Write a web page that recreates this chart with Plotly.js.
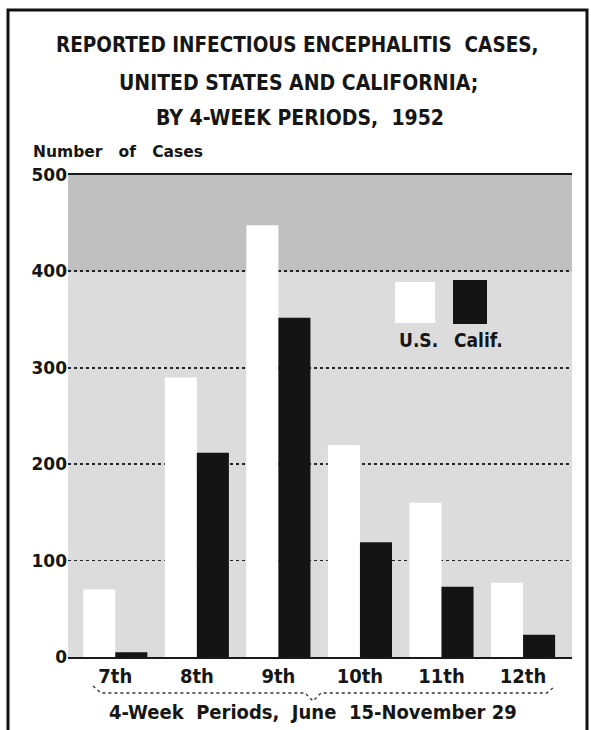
<!DOCTYPE html>
<html>
<head>
<meta charset="utf-8">
<script src="https://cdn.plot.ly/plotly-3.0.1.min.js"></script>
<style>html,body{margin:0;padding:0;background:#fff;}#chart{width:591px;height:730px;}</style>
</head>
<body>
<div id="chart"></div>
<script>
// Data
var periods = ['7th', '8th', '9th', '10th', '11th', '12th'];
var usCases = [70, 290, 448, 220, 160, 77];
var califCases = [5, 212, 352, 119, 73, 23];
var yTicks = [0, 100, 200, 300, 400, 500];

// layout helpers (pixel -> paper)
var L = 68, R = 572, T = 175, B = 657;
function px(x) { return (x - L) / (R - L); }
function py(y) { return (B - y) / (B - T); }

var narrow = 'Liberation Sans Narrow, DejaVu Sans Condensed, Arial Narrow, sans-serif';
var ink = '#161616';

var traces = [
  { type: 'bar', name: 'U.S.', x: periods, y: usCases,
    marker: { color: '#ffffff', line: { width: 0 } }, hoverinfo: 'x+y' },
  { type: 'bar', name: 'Calif.', x: periods, y: califCases,
    marker: { color: '#141414', line: { width: 0 } }, hoverinfo: 'x+y' }
];

var bracePath = 'M ' + px(93) + ' ' + py(686) +
  ' L ' + px(101) + ' ' + py(693) +
  ' L ' + px(305) + ' ' + py(693) +
  ' L ' + px(313) + ' ' + py(701) +
  ' L ' + px(321) + ' ' + py(693) +
  ' L ' + px(547) + ' ' + py(693) +
  ' L ' + px(555) + ' ' + py(686);

var layout = {
  width: 591, height: 730,
  margin: { l: L, r: 591 - R, t: T, b: 730 - B, pad: 0 },
  paper_bgcolor: '#ffffff',
  plot_bgcolor: '#dcdcdc',
  showlegend: false,
  barmode: 'group',
  bargap: 0.214,
  bargroupgap: 0,
  font: { family: narrow, color: ink },
  xaxis: {
    type: 'category',
    range: [-0.58, 5.6],
    showgrid: false,
    showline: true, mirror: true, linecolor: '#1a1a1a', linewidth: 2,
    ticks: '', ticklen: 0,
    tickfont: { family: narrow, size: 20, weight: 'bold', color: ink },
    fixedrange: true
  },
  yaxis: {
    range: [0, 500],
    tickvals: yTicks,
    ticktext: yTicks.map(String),
    showgrid: true, gridcolor: '#222', gridwidth: 1.8, griddash: 'dot',
    zeroline: false, showline: false,
    ticks: '', ticklen: 0,
    tickfont: { family: 'DejaVu Sans, sans-serif', size: 17, weight: 'bold', color: ink },
    fixedrange: true
  },
  shapes: [
    // darker stippled band above 400
    { type: 'rect', xref: 'paper', yref: 'y', x0: 0, x1: 1, y0: 400, y1: 500,
      fillcolor: '#c0c0c0', line: { width: 0 }, layer: 'below' },
    // outer frame
    { type: 'rect', xref: 'paper', yref: 'paper', x0: px(8), x1: px(587), y0: py(745), y1: py(10),
      line: { color: '#111', width: 3 }, fillcolor: 'rgba(0,0,0,0)' },
    // legend keys
    { type: 'rect', xref: 'paper', yref: 'paper', x0: px(395), x1: px(435), y0: py(323), y1: py(282),
      fillcolor: '#ffffff', line: { width: 0 } },
    { type: 'rect', xref: 'paper', yref: 'paper', x0: px(453), x1: px(487), y0: py(324), y1: py(280),
      fillcolor: '#141414', line: { width: 0 } },
    // brace under categories
    { type: 'path', xref: 'paper', yref: 'paper', path: bracePath,
      line: { color: '#333', width: 1.3, dash: 'dot' } }
  ],
  annotations: [
    { xref: 'paper', yref: 'paper', x: px(297), y: py(45), xanchor: 'center', yanchor: 'middle', showarrow: false,
      text: 'REPORTED INFECTIOUS ENCEPHALITIS  CASES,', font: { family: narrow, size: 20.5, weight: 'bold', color: ink } },
    { xref: 'paper', yref: 'paper', x: px(298), y: py(83), xanchor: 'center', yanchor: 'middle', showarrow: false,
      text: 'UNITED STATES AND CALIFORNIA;', font: { family: narrow, size: 21, weight: 'bold', color: ink } },
    { xref: 'paper', yref: 'paper', x: px(300), y: py(118), xanchor: 'center', yanchor: 'middle', showarrow: false,
      text: 'BY 4-WEEK PERIODS,  1952', font: { family: narrow, size: 21, weight: 'bold', color: ink } },
    { xref: 'paper', yref: 'paper', x: px(31), y: py(152), xanchor: 'left', yanchor: 'middle', showarrow: false,
      text: 'Number   of   Cases', font: { family: 'DejaVu Sans, sans-serif', size: 15.5, weight: 'bold', color: ink } },
    { xref: 'paper', yref: 'paper', x: px(418), y: py(340), xanchor: 'center', yanchor: 'middle', showarrow: false,
      text: 'U.S.', font: { family: narrow, size: 19, weight: 'bold', color: ink } },
    { xref: 'paper', yref: 'paper', x: px(478), y: py(340), xanchor: 'center', yanchor: 'middle', showarrow: false,
      text: 'Calif.', font: { family: narrow, size: 19, weight: 'bold', color: ink } },
    { xref: 'paper', yref: 'paper', x: px(313), y: py(712), xanchor: 'center', yanchor: 'middle', showarrow: false,
      text: '4-Week  Periods,  June  15-November 29', font: { family: narrow, size: 20, weight: 'bold', color: ink } }
  ]
};

Plotly.newPlot('chart', traces, layout, { staticPlot: true, displayModeBar: false });
</script>
</body>
</html>
